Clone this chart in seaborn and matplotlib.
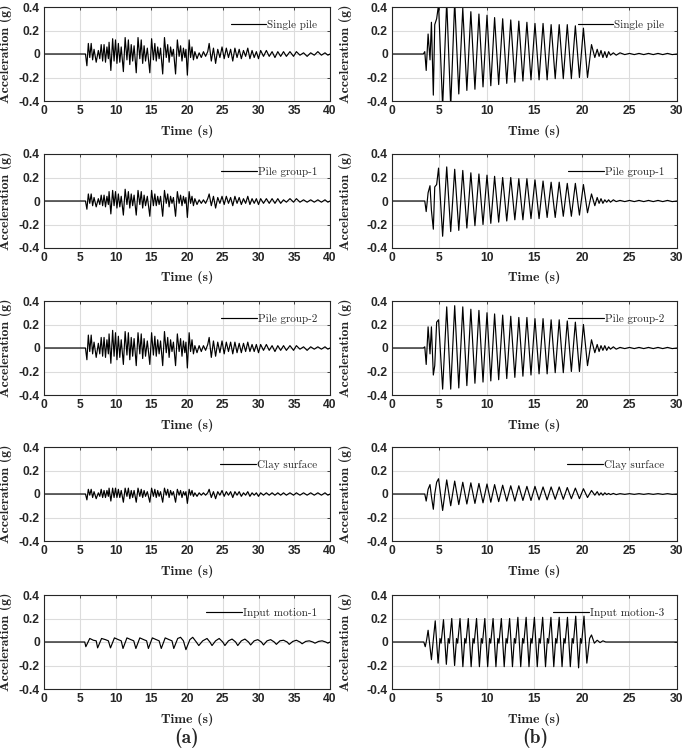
import numpy as np
import pandas as pd
import seaborn as sns
import matplotlib.pyplot as plt

# ---- column (a): 0-40 s records (peaks / troughs) ----
time_a = [0.0, 5.8, 6.0, 6.2, 6.4, 6.6, 6.8, 7.0, 7.3, 7.6,
          7.8, 8.0, 8.2, 8.4, 8.6, 8.8, 9.0, 9.1, 9.35, 9.6,
          9.8, 10.0, 10.2, 10.4, 10.6, 10.8, 11.1, 11.35, 11.6, 11.8,
          12.0, 12.2, 12.4, 12.6, 12.9, 13.15, 13.4, 13.6, 13.8, 14.0,
          14.2, 14.45, 14.8, 15.05, 15.3, 15.5, 15.7, 15.9, 16.1, 16.3,
          16.6, 16.85, 17.1, 17.3, 17.5, 17.7, 17.9, 18.1, 18.4, 18.65,
          18.9, 19.1, 19.3, 19.5, 19.7, 19.85, 20.05, 20.3, 20.5, 20.7,
          20.9, 21.1, 21.4, 21.7, 22.0, 22.3, 22.6, 22.9, 23.1, 23.4,
          23.7, 24.0, 24.3, 24.6, 24.9, 25.2, 25.5, 25.8, 26.1, 26.4,
          26.7, 27.0, 27.3, 27.6, 27.9, 28.2, 28.5, 28.8, 29.1, 29.4,
          29.7, 30.0, 30.3, 30.7, 31.1, 31.5, 31.9, 32.3, 32.7, 33.1,
          33.5, 33.9, 34.4, 34.9, 35.3, 35.8, 36.3, 36.8, 37.3, 37.8,
          38.3, 38.8, 39.3, 39.7, 40.0]

single_a = [0, 0, -0.10, 0.09, -0.03, 0.09, -0.05, 0.04, -0.07, 0.03,
            -0.04, 0.08, -0.06, 0.08, -0.07, 0.06, -0.04, 0.10, -0.14, 0.13,
            -0.06, 0.12, -0.08, 0.09, -0.07, 0.06, -0.15, 0.14, -0.05, 0.12,
            -0.09, 0.08, -0.06, 0.07, -0.16, 0.14, -0.04, 0.12, -0.08, 0.07,
            -0.06, 0.05, -0.16, 0.13, -0.05, 0.09, -0.06, 0.06, -0.04, 0.05,
            -0.17, 0.14, -0.03, 0.08, -0.07, 0.06, -0.02, 0.04, -0.17, 0.12,
            -0.02, 0.07, -0.06, 0.05, -0.03, 0.04, -0.18, 0.12, -0.03, 0.06,
            -0.05, 0.02, -0.04, 0.01, -0.03, 0.02, -0.02, 0.02, 0.09, -0.06,
            0.05, -0.08, 0.04, -0.03, 0.06, -0.04, 0.05, -0.03, 0.04, -0.06,
            0.05, -0.03, 0.04, -0.04, 0.03, -0.02, 0.05, -0.04, 0.03, -0.03,
            0.02, -0.04, 0.03, -0.02, 0.03, -0.02, 0.02, -0.03, 0.02, -0.02,
            0.02, -0.02, 0.02, -0.02, 0.02, -0.01, 0.01, -0.02, 0.01, -0.01,
            0.02, -0.01, 0.01, -0.01, 0.0]

group1_a = [0, 0, -0.07, 0.06, -0.02, 0.06, -0.04, 0.03, -0.05, 0.02,
            -0.03, 0.05, -0.04, 0.05, -0.05, 0.04, -0.03, 0.08, -0.11, 0.09,
            -0.04, 0.08, -0.06, 0.06, -0.05, 0.04, -0.12, 0.10, -0.03, 0.08,
            -0.06, 0.06, -0.04, 0.05, -0.12, 0.09, -0.03, 0.08, -0.06, 0.05,
            -0.04, 0.04, -0.13, 0.09, -0.04, 0.06, -0.04, 0.04, -0.03, 0.04,
            -0.13, 0.09, -0.02, 0.06, -0.05, 0.04, -0.02, 0.03, -0.13, 0.08,
            -0.02, 0.05, -0.04, 0.04, -0.02, 0.03, -0.14, 0.08, -0.02, 0.04,
            -0.04, 0.02, -0.03, 0.01, -0.02, 0.01, -0.02, 0.02, 0.06, -0.04,
            0.04, -0.06, 0.03, -0.02, 0.04, -0.03, 0.04, -0.02, 0.03, -0.04,
            0.04, -0.02, 0.03, -0.03, 0.02, -0.02, 0.04, -0.03, 0.02, -0.02,
            0.02, -0.03, 0.02, -0.02, 0.02, -0.02, 0.02, -0.02, 0.02, -0.02,
            0.01, -0.01, 0.02, -0.01, 0.02, -0.01, 0.01, -0.01, 0.01, -0.01,
            0.01, -0.01, 0.01, -0.01, 0.0]

group2_a = [0, 0, -0.10, 0.11, -0.03, 0.11, -0.05, 0.05, -0.08, 0.04,
            -0.05, 0.09, -0.07, 0.09, -0.08, 0.07, -0.05, 0.12, -0.13, 0.15,
            -0.07, 0.13, -0.10, 0.10, -0.08, 0.07, -0.14, 0.14, -0.06, 0.13,
            -0.10, 0.09, -0.07, 0.08, -0.15, 0.13, -0.05, 0.12, -0.09, 0.08,
            -0.07, 0.06, -0.14, 0.13, -0.06, 0.10, -0.07, 0.07, -0.05, 0.06,
            -0.15, 0.14, -0.04, 0.09, -0.08, 0.07, -0.03, 0.05, -0.15, 0.12,
            -0.03, 0.08, -0.07, 0.06, -0.04, 0.05, -0.17, 0.13, -0.03, 0.07,
            -0.05, 0.02, -0.04, 0.02, -0.03, 0.02, -0.02, 0.03, 0.09, -0.08,
            0.06, -0.07, 0.05, -0.04, 0.06, -0.05, 0.05, -0.03, 0.05, -0.05,
            0.05, -0.04, 0.04, -0.04, 0.04, -0.03, 0.05, -0.03, 0.03, -0.03,
            0.03, -0.04, 0.03, -0.02, 0.03, -0.02, 0.02, -0.03, 0.02, -0.02,
            0.02, -0.02, 0.02, -0.02, 0.02, -0.01, 0.01, -0.02, 0.01, -0.01,
            0.01, -0.01, 0.01, -0.01, 0.0]

clay_a = [0, 0, -0.05, 0.04, -0.01, 0.04, -0.03, 0.02, -0.04, 0.01,
          -0.02, 0.04, -0.03, 0.03, -0.03, 0.03, -0.02, 0.05, -0.06, 0.05,
          -0.03, 0.05, -0.03, 0.04, -0.03, 0.03, -0.07, 0.05, -0.02, 0.05,
          -0.04, 0.03, -0.03, 0.03, -0.07, 0.05, -0.02, 0.04, -0.03, 0.03,
          -0.02, 0.02, -0.07, 0.05, -0.02, 0.04, -0.03, 0.03, -0.02, 0.02,
          -0.07, 0.05, -0.01, 0.04, -0.03, 0.03, -0.01, 0.02, -0.07, 0.04,
          -0.01, 0.03, -0.03, 0.02, -0.01, 0.02, -0.08, 0.04, -0.01, 0.03,
          -0.02, 0.01, -0.02, 0.01, -0.01, 0.01, -0.01, 0.01, 0.04, -0.03,
          0.02, -0.04, 0.02, -0.01, 0.03, -0.02, 0.02, -0.01, 0.02, -0.03,
          0.02, -0.01, 0.02, -0.02, 0.01, -0.01, 0.02, -0.02, 0.01, -0.01,
          0.01, -0.02, 0.01, -0.01, 0.01, -0.01, 0.01, -0.01, 0.01, -0.01,
          0.01, -0.01, 0.01, -0.01, 0.01, -0.01, 0.01, -0.01, 0.01, -0.01,
          0.01, -0.01, 0.01, -0.01, 0.0]

time_in1 = [0, 5.7, 5.85, 6.4, 6.9, 7.3, 7.5, 8.05, 8.6, 9.0,
            9.3, 9.85, 10.4, 10.8, 11.05, 11.6, 12.15, 12.55, 12.85, 13.4,
            13.95, 14.35, 14.6, 15.15, 15.7, 16.1, 16.4, 16.95, 17.5, 17.9,
            18.15, 18.7, 19.1, 19.5, 19.85, 20.4, 20.8, 21.3, 21.65, 22.2,
            22.8, 23.2, 23.5, 24.0, 24.5, 25.0, 25.3, 25.8, 26.3, 26.8,
            27.1, 27.6, 28.1, 28.6, 28.9, 29.4, 29.9, 30.4, 30.7, 31.2,
            31.7, 32.2, 32.5, 33.0, 33.5, 34.0, 34.3, 34.8, 35.3, 35.8,
            36.1, 36.6, 37.1, 37.6, 37.9, 38.4, 38.9, 39.4, 39.7, 40.0]

input1_a = [0, 0, -0.04, 0.03, 0.015, 0.01, -0.05, 0.03, 0.02, 0.01,
            -0.05, 0.035, 0.02, 0.01, -0.055, 0.035, 0.02, 0.01, -0.055, 0.035,
            0.02, 0.01, -0.055, 0.035, 0.02, 0.01, -0.055, 0.035, 0.02, 0.01,
            -0.055, 0.03, 0.04, 0.01, -0.065, 0.02, 0.04, 0.0, -0.03, 0.01,
            0.03, 0.0, -0.03, 0.01, 0.03, 0.0, -0.03, 0.01, 0.025, 0.0,
            -0.03, 0.01, 0.025, 0.0, -0.025, 0.01, 0.02, 0.0, -0.025, 0.01,
            0.02, 0.0, -0.02, 0.01, 0.015, 0.0, -0.02, 0.005, 0.015, 0.0,
            -0.015, 0.005, 0.01, 0.0, -0.01, 0.005, 0.01, 0.0, -0.01, 0.0]

# ---- column (b): 0-30 s records ----
time_b = [0, 3.3, 3.45, 3.6, 3.8, 4.0, 4.15, 4.35, 4.5, 4.7,
          4.9, 5.33, 5.76, 6.18, 6.6, 7.03, 7.45, 7.88, 8.3, 8.73,
          9.15, 9.58, 10.0, 10.4, 10.8, 11.23, 11.65, 12.08, 12.5, 12.93,
          13.35, 13.78, 14.2, 14.63, 15.05, 15.48, 15.9, 16.33, 16.75, 17.18,
          17.6, 18.03, 18.45, 18.88, 19.3, 19.73, 20.15, 20.58, 21.0, 21.35,
          21.6, 21.8, 22.0, 22.2, 22.4, 22.6, 22.8, 23.0, 23.3, 23.6,
          24.0, 24.5, 25.0, 25.5, 26.0, 26.5, 27.0, 27.5, 28.0, 28.5,
          29.0, 29.5, 30.0]

single_b = [0, 0, 0.02, -0.14, 0.17, -0.05, 0.27, -0.35, 0.25, 0.30,
            0.42, -0.45, 0.45, -0.45, 0.45, -0.34, 0.39, -0.31, 0.36, -0.30,
            0.34, -0.28, 0.33, -0.27, 0.31, -0.26, 0.30, -0.25, 0.29, -0.24,
            0.28, -0.23, 0.27, -0.22, 0.26, -0.22, 0.26, -0.22, 0.25, -0.21,
            0.25, -0.21, 0.25, -0.21, 0.24, -0.20, 0.22, -0.20, 0.08, -0.03,
            0.04, -0.02, 0.03, -0.03, 0.02, -0.03, 0.02, -0.01, 0.01, -0.01,
            0.01, -0.005, 0.005, -0.005, 0.005, -0.005, 0.005, -0.005, 0.005, -0.005,
            0.005, -0.005, 0.0]

group1_b = [0, 0, 0.0, -0.09, 0.07, 0.13, -0.08, -0.24, 0.12, 0.14,
            0.28, -0.30, 0.29, -0.26, 0.27, -0.25, 0.26, -0.23, 0.24, -0.21,
            0.23, -0.20, 0.22, -0.19, 0.21, -0.18, 0.20, -0.17, 0.20, -0.16,
            0.19, -0.16, 0.19, -0.15, 0.18, -0.15, 0.17, -0.14, 0.16, -0.14,
            0.16, -0.13, 0.15, -0.13, 0.15, -0.12, 0.14, -0.10, 0.06, -0.04,
            0.03, -0.02, 0.02, -0.02, 0.01, -0.01, 0.01, -0.01, 0.01, -0.005,
            0.005, -0.005, 0.005, -0.005, 0.005, -0.005, 0.005, -0.005, 0.005, -0.005,
            0.005, -0.005, 0.0]

group2_b = [0, 0, 0.01, -0.14, 0.18, -0.05, 0.18, -0.23, -0.15, 0.22,
            0.24, -0.35, 0.35, -0.35, 0.36, -0.34, 0.35, -0.32, 0.33, -0.30,
            0.32, -0.29, 0.30, -0.28, 0.29, -0.27, 0.28, -0.26, 0.27, -0.25,
            0.26, -0.24, 0.26, -0.23, 0.25, -0.22, 0.25, -0.22, 0.24, -0.21,
            0.24, -0.21, 0.23, -0.20, 0.22, -0.20, 0.20, -0.15, 0.07, -0.04,
            0.03, -0.03, 0.02, -0.02, 0.02, -0.02, 0.01, -0.01, 0.01, -0.01,
            0.005, -0.005, 0.005, -0.005, 0.005, -0.005, 0.005, -0.005, 0.005, -0.005,
            0.005, -0.005, 0.0]

clay_b = [0, 0, 0.0, -0.06, 0.04, 0.08, -0.02, -0.13, 0.0, 0.10,
          0.13, -0.14, 0.12, -0.10, 0.11, -0.09, 0.10, -0.085, 0.095, -0.08,
          0.09, -0.075, 0.085, -0.07, 0.08, -0.065, 0.075, -0.06, 0.07, -0.06,
          0.07, -0.055, 0.065, -0.055, 0.065, -0.05, 0.06, -0.05, 0.06, -0.045,
          0.06, -0.045, 0.055, -0.04, 0.05, -0.04, 0.045, -0.03, 0.03, -0.01,
          0.02, -0.01, 0.01, -0.01, 0.01, -0.005, 0.005, -0.005, 0.005, -0.005,
          0.003, -0.003, 0.003, -0.003, 0.003, -0.003, 0.003, -0.003, 0.003, -0.003,
          0.003, -0.003, 0.0]

time_in3 = [0, 3.35, 3.5, 3.65, 3.8, 4.15, 4.35,
            4.55, 4.85, 5.05, 5.17, 5.42, 5.72, 5.92, 6.04,
            6.29, 6.59, 6.79, 6.91, 7.16, 7.46, 7.66, 7.78,
            8.03, 8.33, 8.53, 8.65, 8.9, 9.2, 9.4, 9.52,
            9.77, 10.07, 10.27, 10.39, 10.64, 10.94, 11.14, 11.26,
            11.51, 11.81, 12.01, 12.13, 12.38, 12.68, 12.88, 13.0,
            13.25, 13.55, 13.75, 13.87, 14.12, 14.42, 14.62, 14.74,
            14.99, 15.29, 15.49, 15.61, 15.86, 16.16, 16.36, 16.48,
            16.73, 17.03, 17.23, 17.35, 17.6, 17.9, 18.1, 18.22,
            18.47, 18.77, 18.97, 19.09, 19.34, 19.64, 19.84, 19.96,
            20.21, 20.51, 20.8, 21.0, 21.3, 21.6, 21.9, 22.2, 22.5, 23.0, 30.0]

input3_b = [0, 0, -0.04, 0.02, 0.10, -0.15, 0.02,
            0.18, -0.18, 0.03, -0.01, 0.19, -0.19, 0.03, -0.01,
            0.20, -0.20, 0.03, -0.01, 0.20, -0.21, 0.03, -0.01,
            0.20, -0.21, 0.03, -0.01, 0.20, -0.21, 0.03, -0.01,
            0.20, -0.21, 0.03, -0.01, 0.20, -0.21, 0.03, -0.01,
            0.20, -0.21, 0.03, -0.01, 0.20, -0.21, 0.03, -0.01,
            0.21, -0.21, 0.03, -0.01, 0.21, -0.21, 0.03, -0.01,
            0.21, -0.21, 0.03, -0.01, 0.21, -0.21, 0.03, -0.01,
            0.21, -0.21, 0.03, -0.01, 0.21, -0.21, 0.03, -0.01,
            0.21, -0.21, 0.03, -0.01, 0.22, -0.22, 0.03, -0.01,
            0.22, -0.18, 0.03, 0.06, -0.01, 0.015, -0.005, 0.01, 0.0, 0.0, 0.0]

names_a = ["Single pile", "Pile group-1", "Pile group-2", "Clay surface", "Input motion-1"]
names_b = ["Single pile", "Pile group-1", "Pile group-2", "Clay surface", "Input motion-3"]
series_a = [(time_a, single_a), (time_a, group1_a), (time_a, group2_a),
            (time_a, clay_a), (time_in1, input1_a)]
series_b = [(time_b, single_b), (time_b, group1_b), (time_b, group2_b),
            (time_b, clay_b), (time_in3, input3_b)]
xticks_a = [0, 5, 10, 15, 20, 25, 30, 35, 40]
xticks_b = [0, 5, 10, 15, 20, 25, 30]
yticks = [-0.4, -0.2, 0, 0.2, 0.4]
ytick_labels = ["-0.4", "-0.2", "0", "0.2", "0.4"]
panel_labels = ["(a)", "(b)"]

sns.set_style("whitegrid")
plt.rcParams['axes.unicode_minus'] = False

W, H = 685, 752
fig = plt.figure(figsize=(W / 100, H / 100), dpi=100)

row_tops = [7, 154, 301, 447, 595]
ax_h = 94
# left px, width px, data, names, ticks, ylabel x offset (axes fraction)
cols = [(44, 286, series_a, names_a, xticks_a, -0.112),
        (392, 285, series_b, names_b, xticks_b, -0.14)]

for left, width, series, names, xticks, ylab_x in cols:
    for top, (t, v), name in zip(row_tops, series, names):
        ax = fig.add_axes([left / W, 1 - (top + ax_h) / H, width / W, ax_h / H])
        df = pd.DataFrame({"Time (s)": t, "Acceleration (g)": v})
        sns.lineplot(data=df, x="Time (s)", y="Acceleration (g)", ax=ax,
                     color="black", linewidth=0.85, estimator=None, label=name)
        ax.set_xlim(xticks[0], xticks[-1])
        ax.set_ylim(-0.4, 0.4)
        ax.set_xticks(xticks)
        ax.set_yticks(yticks)
        ax.set_yticklabels(ytick_labels)
        ax.grid(True, color="#dcdcdc", linewidth=0.8)
        for sp in ax.spines.values():
            sp.set_color("#262626")
            sp.set_linewidth(0.8)
        ax.tick_params(direction="in", length=2.5, width=0.6, color="#262626",
                       top=True, right=True, pad=3)
        for lab in ax.get_xticklabels() + ax.get_yticklabels():
            lab.set_fontfamily("Liberation Sans")
            lab.set_fontweight("bold")
            lab.set_fontsize(8.7)
        ax.set_xlabel("Time (s)", fontfamily="cmb10", fontsize=10)
        ax.set_ylabel("Acceleration (g)", fontfamily="cmb10", fontsize=10)
        ax.xaxis.set_label_coords(0.5, -0.25)
        ax.yaxis.set_label_coords(ylab_x, 0.5)
        ax.legend(loc="upper right", frameon=False, handlelength=3.2,
                  handletextpad=0.1, borderaxespad=0.75,
                  prop={"family": "cmr10", "size": 8})

fig.text(187 / W, 1 - 738 / H, panel_labels[0], fontfamily="cmb10", fontsize=14,
         ha="center", va="center")
fig.text(535 / W, 1 - 738 / H, panel_labels[1], fontfamily="cmb10", fontsize=14,
         ha="center", va="center")

fig.savefig("out.png", dpi=100)
